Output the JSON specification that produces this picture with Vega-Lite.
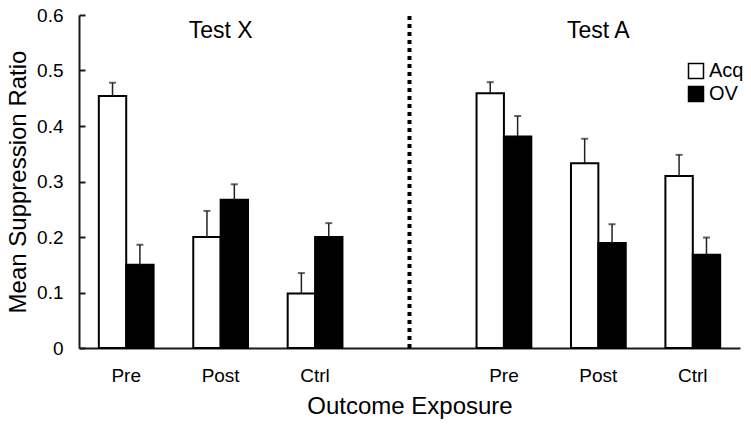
{
  "$schema": "https://vega.github.io/schema/vega-lite/v6.json",
  "autosize": {"type": "none"},
  "padding": {"left": 79, "top": 15, "right": 11, "bottom": 82},
  "width": 661,
  "height": 333,
  "background": "white",
  "config": {
    "view": {"stroke": null},
    "font": "Liberation Sans",
    "axis": {"labelColor": "black", "titleColor": "black", "domainColor": "#1a1a1a", "tickColor": "#1a1a1a", "domainWidth": 2, "tickWidth": 2, "grid": false, "titleFontWeight": "normal", "labelFont": "Liberation Sans", "titleFont": "Liberation Sans"}
  },
  "datasets": {
    "bars": [
      {"slot": "X-Pre", "group": "Acq", "value": 0.454, "upper": 0.478},
      {"slot": "X-Pre", "group": "OV", "value": 0.150, "upper": 0.186},
      {"slot": "X-Post", "group": "Acq", "value": 0.200, "upper": 0.247},
      {"slot": "X-Post", "group": "OV", "value": 0.267, "upper": 0.295},
      {"slot": "X-Ctrl", "group": "Acq", "value": 0.098, "upper": 0.135},
      {"slot": "X-Ctrl", "group": "OV", "value": 0.200, "upper": 0.225},
      {"slot": "A-Pre", "group": "Acq", "value": 0.459, "upper": 0.479},
      {"slot": "A-Pre", "group": "OV", "value": 0.381, "upper": 0.418},
      {"slot": "A-Post", "group": "Acq", "value": 0.333, "upper": 0.377},
      {"slot": "A-Post", "group": "OV", "value": 0.189, "upper": 0.223},
      {"slot": "A-Ctrl", "group": "Acq", "value": 0.310, "upper": 0.348},
      {"slot": "A-Ctrl", "group": "OV", "value": 0.168, "upper": 0.199}
    ],
    "divider": [{"slot": "gap", "y0": 0, "y1": 0.6}],
    "panels": [
      {"slot": "X-Post", "label": "Test X", "y": 0.571},
      {"slot": "A-Post", "label": "Test A", "y": 0.571}
    ]
  },
  "encoding": {
    "x": {
      "field": "slot",
      "type": "nominal",
      "sort": null,
      "scale": {"domain": ["X-Pre", "X-Post", "X-Ctrl", "gap", "A-Pre", "A-Post", "A-Ctrl"], "paddingInner": 0.42, "paddingOuter": 0.21},
      "axis": {
        "title": "Outcome Exposure",
        "titleFontSize": 24,
        "titlePadding": 9,
        "labelFontSize": 19,
        "labelAngle": 0,
        "ticks": false,
        "labelPadding": 18,
        "labelExpr": "datum.value == 'gap' ? '' : slice(datum.value, 2)"
      }
    }
  },
  "layer": [
    {
      "data": {"name": "divider"},
      "mark": {"type": "rule", "strokeWidth": 4, "strokeDash": [4, 4], "color": "black"},
      "encoding": {
        "y": {"field": "y0", "type": "quantitative", "scale": {"domain": [0, 0.6]}},
        "y2": {"field": "y1"}
      }
    },
    {
      "data": {"name": "bars"},
      "mark": {"type": "bar", "stroke": "black", "strokeWidth": 2},
      "encoding": {
        "xOffset": {"field": "group", "type": "nominal", "scale": {"domain": ["Acq", "OV"], "paddingInner": 0, "paddingOuter": 0}},
        "y": {
          "field": "value",
          "type": "quantitative",
          "scale": {"domain": [0, 0.6], "nice": false},
          "axis": {
            "title": "Mean Suppression Ratio",
            "titleFontSize": 24,
            "titlePadding": 6,
            "labelFontSize": 19,
            "values": [0, 0.1, 0.2, 0.3, 0.4, 0.5, 0.6],
            "labelExpr": "datum.value == 0 ? '0' : format(datum.value, '.1f')",
            "tickSize": -6,
            "labelPadding": 22
          }
        },
        "fill": {
          "field": "group",
          "type": "nominal",
          "scale": {"domain": ["Acq", "OV"], "range": ["white", "black"]},
          "legend": {
            "title": null,
            "orient": "none",
            "legendX": 607,
            "legendY": 46,
            "symbolType": "square",
            "symbolSize": 225,
            "symbolStrokeColor": "black",
            "symbolStrokeWidth": 1.5,
            "labelFontSize": 20,
            "labelColor": "black",
            "labelOffset": 3,
            "rowPadding": 1
          }
        }
      }
    },
    {
      "data": {"name": "bars"},
      "mark": {"type": "rule", "color": "#222", "strokeWidth": 1.5},
      "encoding": {
        "xOffset": {"field": "group", "type": "nominal"},
        "y": {"field": "value", "type": "quantitative"},
        "y2": {"field": "upper"}
      }
    },
    {
      "data": {"name": "bars"},
      "mark": {"type": "tick", "color": "#222", "thickness": 2, "size": 7},
      "encoding": {
        "xOffset": {"field": "group", "type": "nominal"},
        "y": {"field": "upper", "type": "quantitative"}
      }
    },
    {
      "data": {"name": "panels"},
      "mark": {"type": "text", "fontSize": 23, "color": "black", "baseline": "middle"},
      "encoding": {
        "y": {"field": "y", "type": "quantitative"},
        "text": {"field": "label"}
      }
    }
  ]
}
